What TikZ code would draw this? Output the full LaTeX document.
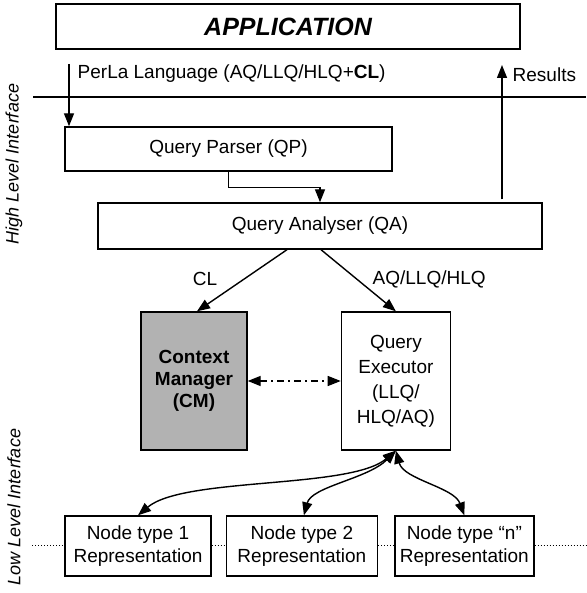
\documentclass[tikz,border=0pt]{standalone}
\usepackage{fontspec}
\setmainfont{Liberation Sans}
\usetikzlibrary{arrows.meta, positioning}

\begin{document}
\begin{tikzpicture}[x=1pt, y=1pt, ->, >={Triangle[length=13pt, width=10pt]}, line width=1.4pt,
			font=\fontsize{19}{23}\selectfont,
			box/.style={draw, fill=white, inner sep=0pt, align=center, minimum height=44pt},
			ctxbox/.style={box, fill=black!30, font=\fontsize{19}{22}\selectfont\bfseries},
			side/.style={rotate=90, font=\fontsize{18}{22}\selectfont\itshape}]

		\useasboundingbox (0,0) rectangle (586,593);

		\node [box, minimum width=464pt, minimum height=45pt, font=\fontsize{25}{30}\selectfont\bfseries\itshape]	(app)	at (288,566.5)	{APPLICATION};
		\node [box, minimum width=327pt]						(qp)	at (228.5,444)		{Query Parser (QP)};
		\node [box, minimum width=444pt, minimum height=46pt]	(qa)	at (320,367)		{Query Analyser (QA)};
		\node [ctxbox, minimum width=106pt, minimum height=138pt]	(cm)	at (194,212)	{Context\\Manager\\(CM)};
		\node [box, minimum width=109pt, minimum height=138pt, font=\fontsize{19}{25}\selectfont]	(qe)	[right = 93pt of cm]	{Query\\Executor\\(LLQ/\\HLQ/AQ)};

		\node [box, minimum width=146pt, minimum height=60pt]	(nt1)	at (138,47)			{Node type 1\\Representation};
		\node [box, minimum width=151pt, minimum height=60pt]	(nt2)	[right = 14pt of nt1]	{Node type 2\\Representation};
		\node [box, minimum width=139pt, minimum height=60pt]	(nt3)	[right = 16pt of nt2]	{Node type “n”\\Representation};

		\node [side]	(hli)	at (14,429)	{High Level Interface};
		\node [side]	(lli)	at (14,86)	{Low Level Interface};

		\coordinate (inpt)	at (69,529);
		\coordinate (res)	at (502,528);

		% interface borders
		\draw [-] (33,496) -- (586,496);
		\draw [-, dotted, line width=1pt] (32,47) -- (nt1.west) (nt1.east) -- (nt2.west) (nt2.east) -- (nt3.west) (nt3.east) -- (586,47);

		\path	(inpt)	edge	node [pos=0.16, right=8pt, inner sep=0pt] {PerLa Language (AQ/LLQ/HLQ+\textbf{CL})}	(inpt |- qp.north)
				(qa.north -| res)	edge [shorten <=3pt]	node [pos=0.93, right=10pt, inner sep=0pt] {Results}	(res)

				([xshift=-33pt]qa.south)	edge	node [pos=0.48, left=26pt, inner sep=0pt] {CL}	([xshift=3pt]cm.north)
				([xshift=1pt]qa.south)		edge	node [pos=0.48, right=15pt, inner sep=0pt] {AQ/LLQ/HLQ}	(qe.north)

				(cm)	edge [<->, dash pattern=on 7pt off 4pt on 2pt off 4pt]	(qe)

				(qe.south)	edge [<->, out=220, in=40, out distance=60pt, in distance=60pt]	(nt1.north)
							edge [<->, out=225, in=75, out distance=40pt, in distance=30pt]	([xshift=2pt]nt2.north)
							edge [<->, out=-75, in=110, out distance=30pt, in distance=30pt]	(nt3.north)
		;

		\draw (qp.south) -- ++(0,-16) -| (qa.north);

\end{tikzpicture}
\end{document}
